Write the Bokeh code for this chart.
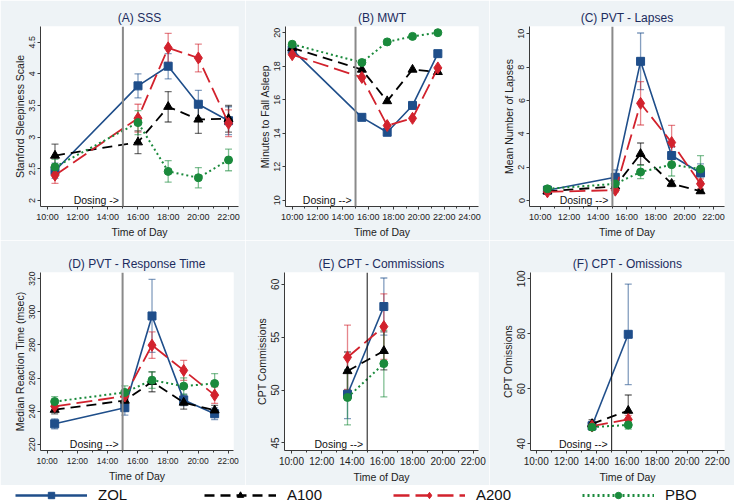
import numpy as np
from bokeh.plotting import figure
from bokeh.layouts import column, row
from bokeh.models import (ColumnDataSource, Whisker, TeeHead, Span, Label, Range1d,
                          FixedTicker, Legend, LegendItem)
from bokeh.embed import file_html
from bokeh.resources import INLINE

# ---------------- data ----------------
GROUPS = ["ZOL", "A100", "A200", "PBO"]

X_TICKS = [10, 12, 14, 16, 18, 20, 22]
X_TICK_LABELS = ["10:00", "12:00", "14:00", "16:00", "18:00", "20:00", "22:00"]
X_TICKS_B = [10, 12, 14, 16, 18, 20, 22, 24]
X_TICK_LABELS_B = ["10:00", "12:00", "14:00", "16:00", "18:00", "20:00", "22:00", "24:00"]
DOSING_TIME = 15

# (A) SSS
A_time = [10.5, 16, 18, 20, 22]
A_zol = [2.47, 3.81, 4.12, 3.52, 3.26]
A_zol_se = [0.12, 0.19, 0.20, 0.22, 0.22]
A_a100 = [2.71, 2.92, 3.48, 3.28, 3.29]
A_a100_se = [0.18, 0.18, 0.24, 0.22, 0.21]
A_a200 = [2.40, 3.30, 4.41, 4.25, 3.22]
A_a200_se = [0.13, 0.22, 0.23, 0.22, 0.21]
A_pbo = [2.53, 3.23, 2.46, 2.36, 2.64]
A_pbo_se = [0.12, 0.19, 0.17, 0.16, 0.17]
A_yticks = [2, 2.5, 3, 3.5, 4, 4.5]
A_ylabels = ["2", "2.5", "3", "3.5", "4", "4.5"]

# (B) MWT
B_time = [10, 15.5, 17.5, 19.5, 21.5]
B_zol = [18.99, 14.95, 14.06, 15.66, 18.75]
B_a100 = [19.09, 17.80, 15.92, 17.80, 17.66]
B_a200 = [18.69, 17.33, 14.46, 14.89, 17.90]
B_pbo = [19.31, 18.22, 19.45, 19.78, 20.00]
B_yticks = [10, 12, 14, 16, 18, 20]
B_ylabels = ["10", "12", "14", "16", "18", "20"]

# (C) PVT - Lapses
C_time = [10.5, 15.2, 16.95, 19.1, 21.1]
C_zol = [0.62, 1.39, 8.35, 2.70, 1.65]
C_zol_se = [0.15, 0.45, 1.70, 0.50, 0.55]
C_a100 = [0.55, 0.85, 2.80, 1.01, 0.56]
C_a100_se = [0.10, 0.15, 0.65, 0.17, 0.10]
C_a200 = [0.52, 0.62, 5.83, 3.48, 1.00]
C_a200_se = [0.10, 0.12, 1.30, 1.03, 0.30]
C_pbo = [0.70, 1.00, 1.71, 2.15, 1.89]
C_pbo_se = [0.12, 0.20, 0.40, 0.68, 0.80]
C_yticks = [0, 2, 4, 6, 8, 10]
C_ylabels = ["0", "2", "4", "6", "8", "10"]

# (D) PVT - Response Time
D_time = [10.5, 15.15, 16.95, 19.05, 21.1]
D_zol = [232.5, 242.2, 297.5, 246.9, 238.6]
D_zol_se = [3.0, 4.5, 22.0, 3.5, 3.5]
D_a100 = [241.0, 246.5, 257.8, 245.3, 240.6]
D_a100_se = [2.5, 3.0, 6.0, 4.0, 3.0]
D_a200 = [243.0, 249.2, 279.9, 264.7, 249.8]
D_a200_se = [2.0, 3.0, 8.0, 6.0, 5.0]
D_pbo = [245.9, 251.4, 258.8, 255.2, 256.8]
D_pbo_se = [3.0, 4.0, 5.0, 5.0, 6.0]
D_yticks = [220, 240, 260, 280, 300, 320]
D_ylabels = ["220", "240", "260", "280", "300", "320"]

# (E) CPT - Commissions
E_time = [13.7, 16.1]
E_zol = [49.6, 57.9]
E_zol_se = [2.3, 2.7]
E_a100 = [51.8, 53.7]
E_a100_se = [1.8, 1.8]
E_a200 = [53.1, 56.0]
E_a200_se = [3.05, 3.1]
E_pbo = [49.3, 52.5]
E_pbo_se = [2.6, 3.15]
E_yticks = [45, 50, 55, 60]
E_ylabels = ["45", "50", "55", "60"]

# (F) CPT - Omissions
F_time = [13.7, 16.1]
F_zol = [46.5, 79.8]
F_zol_se = [1.5, 18.3]
F_a100 = [47.2, 52.0]
F_a100_se = [1.5, 5.7]
F_a200 = [46.4, 48.8]
F_a200_se = [1.2, 1.5]
F_pbo = [46.0, 46.8]
F_pbo_se = [1.2, 1.5]
F_yticks = [40, 60, 80, 100]
F_ylabels = ["40", "60", "80", "100"]

# ---------------- styles ----------------
BG = "#eef3f6"
TITLE_C = "#1c2c5e"
AXIS_C = "#3a3a3a"
STY = {
    "ZOL":  dict(color="#1f4e8a", dash="solid", lw=1.6, marker="square", size=8),
    "A100": dict(color="#000000", dash="10 6", lw=1.8, marker="triangle", size=9),
    "A200": dict(color="#d2222d", dash="16 6", lw=1.8, marker="diamond", size=12),
    "PBO":  dict(color="#1a8a3c", dash="2 3", lw=2.0, marker="circle", size=8),
}
SANS = "Liberation Sans"


def panel(title, ylabel, t, series, xr, yr, xticks, xlabels, yticks, ylabels,
          w, h, bl, br, bt, bb, tick_size, dosing, span_c, span_w):
    p = figure(width=w, height=h, x_range=Range1d(*xr), y_range=Range1d(*yr),
               toolbar_location=None, output_backend="svg",
               min_border_left=bl, min_border_right=br, min_border_top=bt,
               min_border_bottom=bb, background_fill_color="white",
               border_fill_color=BG, outline_line_color=None)
    p.title.text = title
    p.title.align = "center"
    p.title.text_font = SANS
    p.title.text_font_size = "12px"
    p.title.text_font_style = "normal"
    p.title.text_color = TITLE_C
    p.title.standoff = 3
    p.grid.visible = False

    xa = p.xaxis[0]
    xa.ticker = FixedTicker(ticks=xticks, minor_ticks=list(range(xticks[0], xticks[-1] + 1)))
    xa.major_label_overrides = {k: v for k, v in zip(xticks, xlabels)}
    xa.axis_label = "Time of Day"
    ya = p.yaxis[0]
    ya.ticker = FixedTicker(ticks=yticks)
    ya.major_label_overrides = {k: v for k, v in zip(yticks, ylabels)}
    ya.axis_label = ylabel
    ya.major_label_orientation = "vertical"
    for ax in (xa, ya):
        ax.axis_line_color = AXIS_C
        ax.major_tick_line_color = AXIS_C
        ax.minor_tick_line_color = AXIS_C
        ax.major_tick_out = 3
        ax.major_tick_in = 0
        ax.minor_tick_out = 2
        ax.minor_tick_in = 0
        ax.major_label_standoff = 2
        ax.axis_label_standoff = 1
        ax.major_label_text_font = SANS
        ax.major_label_text_font_size = tick_size
        ax.major_label_text_color = "#222222"
        ax.axis_label_text_font = SANS
        ax.axis_label_text_font_size = "10.5px"
        ax.axis_label_text_font_style = "normal"
        ax.axis_label_text_color = "#222222"

    p.add_layout(Span(location=DOSING_TIME, dimension="height",
                      line_color=span_c, line_width=span_w))
    p.add_layout(Label(x=DOSING_TIME, y=yr[0], x_offset=-4, y_offset=1,
                       text=dosing, text_align="right", text_baseline="bottom",
                       text_font=SANS, text_font_size="10.5px", text_color="#111111"))

    for g, (vals, se) in zip(GROUPS, series):
        s = STY[g]
        data = dict(x=t, y=vals)
        if se is not None:
            v = np.array(vals, dtype=float)
            e = np.array(se, dtype=float)
            data["lo"] = v - e
            data["hi"] = v + e
        src = ColumnDataSource(data)
        if se is not None:
            p.add_layout(Whisker(source=src, base="x", upper="hi", lower="lo",
                                 line_color=s["color"], line_alpha=0.55, line_width=1.3,
                                 upper_head=TeeHead(size=7, line_color=s["color"], line_alpha=0.55, line_width=1.3),
                                 lower_head=TeeHead(size=7, line_color=s["color"], line_alpha=0.55, line_width=1.3)))
        p.line("x", "y", source=src, line_color=s["color"], line_width=s["lw"],
               line_dash=s["dash"])
        p.scatter("x", "y", source=src, marker=s["marker"], size=s["size"],
                  fill_color=s["color"], line_color=s["color"])
    return p


pa = panel("(A) SSS", "Stanford Sleepiness Scale", A_time,
           [(A_zol, A_zol_se), (A_a100, A_a100_se), (A_a200, A_a200_se), (A_pbo, A_pbo_se)],
           (9.54, 22.66), (1.906, 4.747), X_TICKS, X_TICK_LABELS, A_yticks, A_ylabels,
           245, 240, 40, 7, 26, 33, "9px", "Dosing ->", "#8a8a8a", 2)
pb = panel("(B) MWT", "Minutes to Fall Asleep", B_time,
           [(B_zol, None), (B_a100, None), (B_a200, None), (B_pbo, None)],
           (9.47, 24.71), (9.63, 20.37), X_TICKS_B, X_TICK_LABELS_B, B_yticks, B_ylabels,
           244, 240, 40, 11, 26, 33, "9px", "Dosing -->", "#8a8a8a", 2)
pc = panel("(C) PVT - Lapses", "Mean Number of Lapses", C_time,
           [(C_zol, C_zol_se), (C_a100, C_a100_se), (C_a200, C_a200_se), (C_pbo, C_pbo_se)],
           (9.26, 22.76), (-0.36, 10.44), X_TICKS, X_TICK_LABELS, C_yticks, C_ylabels,
           245, 240, 40, 10, 26, 33, "9px", "Dosing -->", "#8a8a8a", 2)
pd_ = panel("(D) PVT - Response Time", "Median Reaction Time (msec)", D_time,
            [(D_zol, D_zol_se), (D_a100, D_a100_se), (D_a200, D_a200_se), (D_pbo, D_pbo_se)],
            (9.56, 22.35), (216.4, 323.7), X_TICKS, X_TICK_LABELS, D_yticks, D_ylabels,
            245, 245, 40, 12, 32, 33, "8.5px", "Dosing -->", "#8a8a8a", 2)
pe = panel("(E) CPT - Commissions", "CPT Commissions", E_time,
           [(E_zol, E_zol_se), (E_a100, E_a100_se), (E_a200, E_a200_se), (E_pbo, E_pbo_se)],
           (9.54, 22.35), (44.28, 61.12), X_TICKS, X_TICK_LABELS, E_yticks, E_ylabels,
           244, 245, 39, 11, 32, 33, "10px", "Dosing -->", "#111111", 1)
pf = panel("(F) CPT - Omissions", "CPT Omissions", F_time,
           [(F_zol, F_zol_se), (F_a100, F_a100_se), (F_a200, F_a200_se), (F_pbo, F_pbo_se)],
           (9.62, 22.48), (37.5, 102.3), X_TICKS, X_TICK_LABELS, F_yticks, F_ylabels,
           245, 245, 41, 10, 32, 33, "10px", "Dosing -->", "#111111", 1)

# ---------------- legend strip ----------------
leg = figure(width=734, height=19, x_range=Range1d(0, 1), y_range=Range1d(0, 1),
             toolbar_location=None, output_backend="svg",
             x_axis_location=None, y_axis_location=None, min_border=0,
             outline_line_color=None, background_fill_color="white",
             border_fill_color="white")
leg.grid.visible = False
items = []
# legend-key renderers: real series points, kept outside this strip's 0..1 ranges
for g, xs, ys in zip(GROUPS, [A_time] * 4, [A_zol, A_a100, A_a200, A_pbo]):
    s = STY[g]
    lr = leg.line(x=xs, y=ys, line_color=s["color"], line_width=s["lw"] + 0.8,
                  line_dash=s["dash"])
    mr = leg.scatter(x=xs, y=ys, marker=s["marker"], size=s["size"] + 3,
                     fill_color=s["color"], line_color=s["color"])
    items.append(LegendItem(label=g, renderers=[lr, mr]))
legend = Legend(items=items, orientation="horizontal", location=(15, 1),
                glyph_width=72, glyph_height=16, label_standoff=11, label_width=106,
                label_height=16, spacing=0, padding=0, margin=0,
                border_line_color=None, background_fill_alpha=0,
                label_text_font=SANS, label_text_font_size="15px",
                label_text_color="#111111")
leg.add_layout(legend)

root = column(row(pa, pb, pc), row(pd_, pe, pf), leg)

open("out.html", "w").write(file_html(root, INLINE))
